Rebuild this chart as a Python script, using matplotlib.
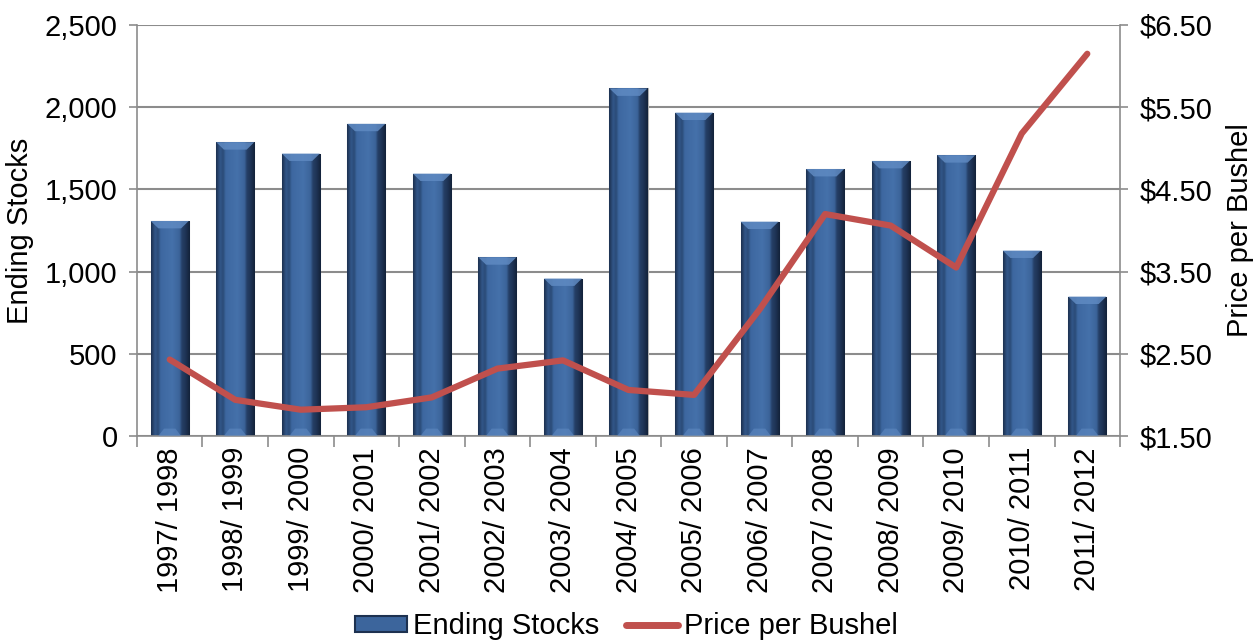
import numpy as np
import matplotlib.pyplot as plt
from matplotlib.colors import LinearSegmentedColormap
from matplotlib.patches import Rectangle, Polygon
from matplotlib.lines import Line2D
from matplotlib.ticker import FuncFormatter, MultipleLocator

plt.rcParams['font.family'] = ['Liberation Sans', 'DejaVu Sans']

years = ["1997/ 1998", "1998/ 1999", "1999/ 2000", "2000/ 2001", "2001/ 2002",
         "2002/ 2003", "2003/ 2004", "2004/ 2005", "2005/ 2006", "2006/ 2007",
         "2007/ 2008", "2008/ 2009", "2009/ 2010", "2010/ 2011", "2011/ 2012"]
ending_stocks = [1308, 1787, 1718, 1899, 1596, 1087, 958, 2114, 1967, 1304,
                 1624, 1673, 1708, 1128, 848]
price = [2.43, 1.94, 1.82, 1.85, 1.97, 2.32, 2.42, 2.06, 2.00, 3.04,
         4.20, 4.06, 3.55, 5.18, 6.15]
price_ticks = [1.5, 2.5, 3.5, 4.5, 5.5, 6.5]

fs = 21
grey = "#8c8c8c"
bar_col = "#3c659c"
line_col = "#c0504d"

# horizontal shading to fake the bevelled bars
bevel = LinearSegmentedColormap.from_list("bevel", [
    (0.0, "#1d3150"), (0.10, "#32578a"), (0.18, "#2a4a76"), (0.24, "#3d67a0"),
    (0.55, "#4571aa"), (0.74, "#3b6399"), (0.80, "#253f66"), (0.90, "#1e3354"),
    (1.0, "#13223a")])
grad = np.linspace(0, 1, 64).reshape(1, -1)

fig = plt.figure(figsize=(12.53, 6.41), dpi=100)
ax = fig.add_axes([0.1093, 0.3198, 0.7846, 0.6412])
x = np.arange(len(years))

bars = ax.bar(x, ending_stocks, width=0.58, color=bar_col, edgecolor="#b0b0b0",
              linewidth=0.8, zorder=2)
for b in bars:
    x0, w, h = b.get_x(), b.get_width(), b.get_height()
    im = ax.imshow(grad, cmap=bevel, aspect="auto", extent=(x0, x0 + w, 0, h),
                   zorder=2.5, interpolation="bicubic")
    im.set_clip_path(b)
    # lighter bevel caps, top and bottom
    ax.add_patch(Polygon([(x0, h), (x0 + w, h), (x0 + w * 0.8, h - 45), (x0 + w * 0.2, h - 45)],
                         closed=True, color="#5f8ac2", alpha=0.85, lw=0, zorder=2.6))
    ax.add_patch(Polygon([(x0 + w * 0.2, 0), (x0 + w * 0.8, 0), (x0 + w * 0.65, 45), (x0 + w * 0.35, 45)],
                         closed=True, color="#5f8ac2", alpha=0.6, lw=0, zorder=2.6))

ax.set_xlim(-0.5, len(years) - 0.5)
ax.set_ylim(0, 2500)
ax.yaxis.set_major_locator(MultipleLocator(500))
ax.yaxis.set_major_formatter(FuncFormatter(lambda v, p: f"{int(v):,}"))
ax.grid(axis="y", color=grey, linewidth=1.5)
ax.set_axisbelow(True)

ax.set_xticks(x)
ax.set_xticklabels(years, rotation=90, fontsize=fs)
ax.set_xticks(np.arange(len(years) + 1) - 0.5, minor=True)
ax.tick_params(axis="x", which="major", length=0, pad=8)
ax.tick_params(axis="x", which="minor", length=8, color=grey, width=1.2)
ax.tick_params(axis="y", labelsize=fs, length=6, color=grey, width=1.2, pad=8)
for s in ["top", "right"]:
    ax.spines[s].set_visible(False)
for s in ["left", "bottom"]:
    ax.spines[s].set_color(grey)
    ax.spines[s].set_linewidth(1.2)
ax.set_ylabel("Ending Stocks", fontsize=fs, labelpad=8)

ax2 = ax.twinx()
ax2.plot(x, price, color=line_col, linewidth=4.5, solid_capstyle="round",
         solid_joinstyle="round", zorder=5)
ax2.set_ylim(1.5, 6.5)
ax2.set_yticks(price_ticks)
ax2.yaxis.set_major_formatter(FuncFormatter(lambda v, p: f"${v:.2f}"))
ax2.tick_params(axis="y", labelsize=fs, length=6, color=grey, width=1.2, pad=8)
for s in ["top", "left", "bottom"]:
    ax2.spines[s].set_visible(False)
ax2.spines["right"].set_color(grey)
ax2.spines["right"].set_linewidth(1.2)
ax2.set_ylabel("Price per Bushel", fontsize=fs, labelpad=10)

handles = [Rectangle((0, 0), 1, 1, facecolor=bar_col, edgecolor="#1d3150", linewidth=1.5),
           Line2D([0], [0], color=line_col, linewidth=5, solid_capstyle="round")]
fig.legend(handles, ["Ending Stocks", "Price per Bushel"], loc="lower center",
           bbox_to_anchor=(0.5, -0.04), ncol=2, frameon=False, fontsize=fs,
           handlelength=1.8, handleheight=0.5, handletextpad=0.2, columnspacing=0.9)

fig.savefig("out.png", dpi=100)
